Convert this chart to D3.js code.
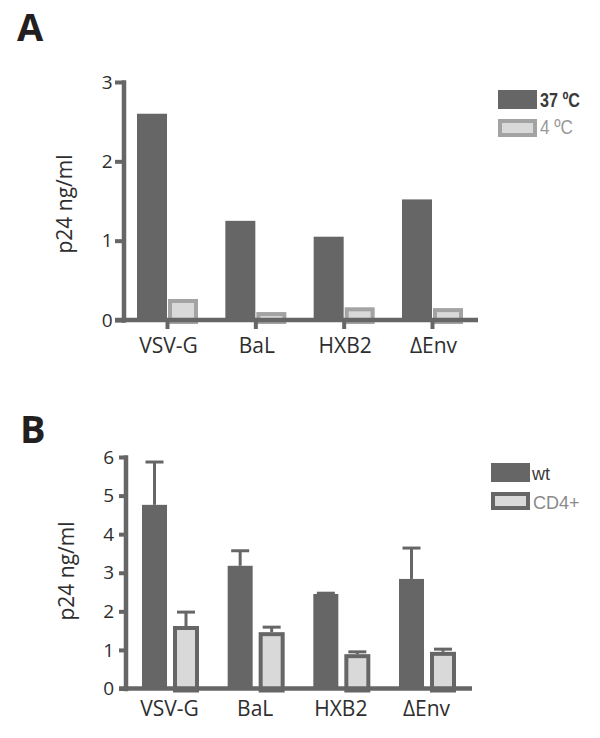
<!DOCTYPE html>
<html>
<head>
<meta charset="utf-8">
<script src="https://cdn.jsdelivr.net/npm/d3@7"></script>
<style>
  html, body { margin: 0; padding: 0; background: #fff; }
  svg { display: block; }
</style>
</head>
<body>
<svg id="chart" width="600" height="738"></svg>
<script>
// ---------- data ----------
const categories = ["VSV-G", "BaL", "HXB2", "\u0394Env"];

// Panel A
const seriesA = ["37 \u00baC", "4 \u00baC"];
const valuesA37 = [2.60, 1.25, 1.05, 1.52];
const valuesA4 = [0.265, 0.10, 0.16, 0.15];
const ticksA = [0, 1, 2, 3];

// Panel B
const seriesB = ["wt", "CD4+"];
const valuesBwt = [4.76, 3.18, 2.45, 2.84];
const errorsBwt = [1.11, 0.39, 0.02, 0.80];
const valuesBcd4 = [1.62, 1.46, 0.89, 0.95];
const errorsBcd4 = [0.36, 0.13, 0.06, 0.07];
const ticksB = [0, 1, 2, 3, 4, 5, 6];

const yLabel = "p24 ng/ml";

// ---------- styles ----------
const DARK = "#666666";
const LIGHT = "#d9d9d9";
const LIGHT_STROKE_A = "#a3a3a3";
const TEXT = "#2e2e2e";
const FONT = "'Open Sans', 'Noto Sans', sans-serif";

const svg = d3.select("#chart");

// ================= Panel A =================
const gA = svg.append("g");
gA.append("text").attr("x", 17).attr("y", 41)
  .attr("font-family", FONT).attr("font-weight", 700).attr("font-size", 38)
  .attr("fill", "#231f20").text("A");

const yA = d3.scaleLinear().domain([0, 3]).range([320, 82]);
const xA = d3.scalePoint().domain(categories).range([167, 432]);

// dark bars
gA.selectAll("rect.d").data(categories).join("rect").attr("class", "d")
  .attr("x", (c) => xA(c) - 30).attr("width", 30)
  .attr("y", (c, i) => yA(valuesA37[i]))
  .attr("height", (c, i) => yA(0) - yA(valuesA37[i]))
  .attr("fill", DARK);
// light bars
gA.selectAll("rect.l").data(categories).join("rect").attr("class", "l")
  .attr("x", (c) => xA(c) + 3).attr("width", 26)
  .attr("y", (c, i) => yA(valuesA4[i]) + 2)
  .attr("height", (c, i) => yA(0) - yA(valuesA4[i]))
  .attr("fill", LIGHT).attr("stroke", LIGHT_STROKE_A).attr("stroke-width", 4);

// y axis
const axA = gA.append("g").attr("transform", "translate(123.5,0)")
  .call(d3.axisLeft(yA).tickValues(ticksA).tickFormat(d3.format("d"))
    .tickSize(8.5).tickSizeOuter(0).tickPadding(2.5));
axA.select(".domain").attr("stroke", DARK).attr("stroke-width", 4.5)
  .attr("stroke-linecap", "square");
axA.selectAll(".tick line").attr("stroke", DARK).attr("stroke-width", 4);
axA.selectAll(".tick text").attr("font-family", FONT).attr("font-size", 19)
  .attr("fill", TEXT);

// x baseline
gA.append("line").attr("x1", 115).attr("x2", 478)
  .attr("y1", yA(0)).attr("y2", yA(0))
  .attr("stroke", DARK).attr("stroke-width", 4.5);
// x axis
const bxA = gA.append("g").attr("transform", `translate(0,${yA(0)})`)
  .call(d3.axisBottom(xA).tickSize(9).tickPadding(9));
bxA.select(".domain").remove();
bxA.selectAll(".tick line").attr("stroke", DARK).attr("stroke-width", 4);
bxA.selectAll(".tick text").attr("font-family", FONT).attr("font-size", 21)
  .attr("fill", TEXT).attr("dx", 1);

// y label
gA.append("text").attr("transform", "translate(72,204) rotate(-90)")
  .attr("text-anchor", "middle").attr("font-family", FONT).attr("font-size", 21)
  .attr("fill", TEXT).text(yLabel);

// legend A
const legA = gA.append("g");
legA.append("rect").attr("x", 498).attr("y", 90).attr("width", 39).attr("height", 19)
  .attr("fill", DARK);
legA.append("rect").attr("x", 500).attr("y", 121).attr("width", 35).attr("height", 14)
  .attr("fill", LIGHT).attr("stroke", LIGHT_STROKE_A).attr("stroke-width", 4);
legA.append("text").attr("x", 540).attr("y", 107)
  .attr("font-family", "'Liberation Sans Narrow', 'Liberation Sans', Arial, sans-serif")
  .attr("font-weight", 700).attr("font-size", 20).attr("fill", "#3a3a3a")
  .attr("textLength", 40).attr("lengthAdjust", "spacingAndGlyphs").text(seriesA[0]);
legA.append("text").attr("x", 540).attr("y", 134)
  .attr("font-family", "'Liberation Sans Narrow', 'Liberation Sans', Arial, sans-serif")
  .attr("font-size", 20).attr("fill", "#999999")
  .attr("textLength", 33).attr("lengthAdjust", "spacingAndGlyphs").text(seriesA[1]);

// ================= Panel B =================
const gB = svg.append("g");
gB.append("text").attr("x", 20).attr("y", 443)
  .attr("font-family", FONT).attr("font-weight", 700).attr("font-size", 38)
  .attr("fill", "#231f20").text("B");

const yB = d3.scaleLinear().domain([0, 6]).range([688.5, 457]);
const xB = d3.scalePoint().domain(categories).range([170, 427]);

// dark bars
gB.selectAll("rect.d").data(categories).join("rect").attr("class", "d")
  .attr("x", (c) => xB(c) - 28).attr("width", 25)
  .attr("y", (c, i) => yB(valuesBwt[i]))
  .attr("height", (c, i) => yB(0) - yB(valuesBwt[i]))
  .attr("fill", DARK);
// light bars
gB.selectAll("rect.l").data(categories).join("rect").attr("class", "l")
  .attr("x", (c) => xB(c) + 5).attr("width", 22)
  .attr("y", (c, i) => yB(valuesBcd4[i]) + 2)
  .attr("height", (c, i) => yB(0) - yB(valuesBcd4[i]))
  .attr("fill", LIGHT).attr("stroke", DARK).attr("stroke-width", 4);

// error bars
function errBars(vals, errs, off) {
  const g = gB.append("g").attr("stroke", DARK).attr("stroke-width", 3);
  g.selectAll("line.v").data(categories).join("line").attr("class", "v")
    .attr("x1", (c) => xB(c) + off).attr("x2", (c) => xB(c) + off)
    .attr("y1", (c, i) => yB(vals[i]))
    .attr("y2", (c, i) => yB(vals[i] + errs[i]));
  g.selectAll("line.h").data(categories).join("line").attr("class", "h")
    .attr("x1", (c) => xB(c) + off - 9).attr("x2", (c) => xB(c) + off + 9)
    .attr("y1", (c, i) => yB(vals[i] + errs[i]))
    .attr("y2", (c, i) => yB(vals[i] + errs[i]));
}
errBars(valuesBwt, errorsBwt, -15.5);
errBars(valuesBcd4, errorsBcd4, 16);

// y axis
const axB = gB.append("g").attr("transform", "translate(125.5,0)")
  .call(d3.axisLeft(yB).tickValues(ticksB).tickFormat(d3.format("d"))
    .tickSize(6.5).tickSizeOuter(0).tickPadding(5));
axB.select(".domain").attr("stroke", DARK).attr("stroke-width", 4.5)
  .attr("stroke-linecap", "square");
axB.selectAll(".tick line").attr("stroke", DARK).attr("stroke-width", 4);
axB.selectAll(".tick text").attr("font-family", FONT).attr("font-size", 19)
  .attr("fill", TEXT);

// x baseline
gB.append("line").attr("x1", 119).attr("x2", 472)
  .attr("y1", yB(0)).attr("y2", yB(0))
  .attr("stroke", DARK).attr("stroke-width", 4.5);
const bxB = gB.append("g").attr("transform", `translate(0,${yB(0)})`)
  .call(d3.axisBottom(xB).tickSize(0).tickPadding(12.5));
bxB.select(".domain").remove();
bxB.selectAll(".tick line").remove();
bxB.selectAll(".tick text").attr("font-family", FONT).attr("font-size", 21)
  .attr("fill", TEXT).attr("dx", -1);

// y label
gB.append("text").attr("transform", "translate(74,571) rotate(-90)")
  .attr("text-anchor", "middle").attr("font-family", FONT).attr("font-size", 21)
  .attr("fill", TEXT).text(yLabel);

// legend B
const legB = gB.append("g");
legB.append("rect").attr("x", 491).attr("y", 463).attr("width", 39).attr("height", 19)
  .attr("fill", DARK);
legB.append("rect").attr("x", 493).attr("y", 494).attr("width", 35).attr("height", 14)
  .attr("fill", LIGHT).attr("stroke", DARK).attr("stroke-width", 4);
legB.append("text").attr("x", 532).attr("y", 480)
  .attr("font-family", "'Liberation Sans', Arial, sans-serif")
  .attr("font-size", 18).attr("fill", "#3a3a3a").text(seriesB[0]);
legB.append("text").attr("x", 533).attr("y", 509)
  .attr("font-family", "'Liberation Sans', Arial, sans-serif")
  .attr("font-size", 18).attr("fill", "#8a8a8a").text(seriesB[1]);
</script>
</body>
</html>
